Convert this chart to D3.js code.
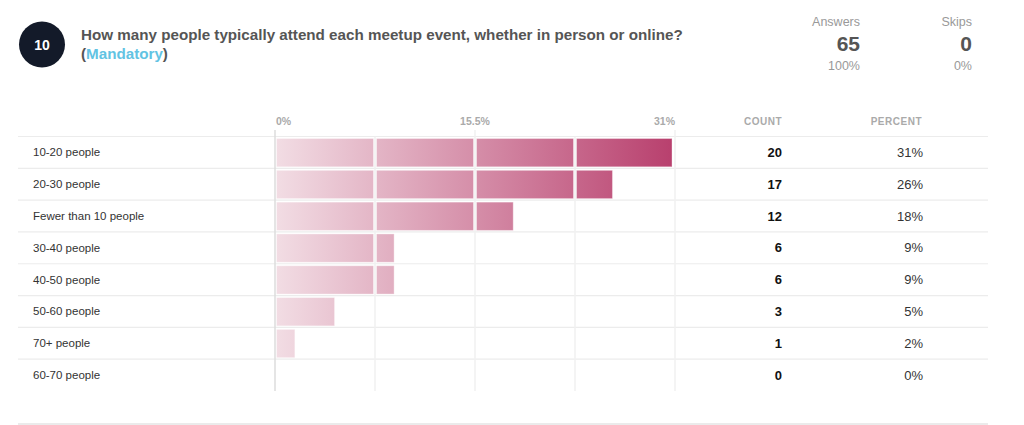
<!DOCTYPE html>
<html>
<head>
<meta charset="utf-8">
<script src="https://cdn.jsdelivr.net/npm/d3@7"></script>
<style>
  body { margin: 0; background: #fff; }
  svg text { font-family: "Helvetica Neue", Helvetica, Arial, "Liberation Sans", sans-serif; }
</style>
</head>
<body>
<div id="chart"></div>
<script>
// ===== DATA =====
const categories = ["10-20 people", "20-30 people", "Fewer than 10 people", "30-40 people",
                    "40-50 people", "50-60 people", "70+ people", "60-70 people"];
const counts = [20, 17, 12, 6, 6, 3, 1, 0];
const totalAnswers = 65;
const skips = 0;
const axisTicks = [0, 15.5, 31];
const gridSteps = [0, 7.75, 15.5, 23.25, 31];

const width = 1024, height = 425;
const svg = d3.select('#chart').append('svg')
    .attr('width', width)
    .attr('height', height);

// ===== HEADER =====
svg.append('circle')
    .attr('cx', 42).attr('cy', 44.5).attr('r', 23)
    .attr('fill', '#131a29');
svg.append('text')
    .attr('x', 42).attr('y', 49.5)
    .attr('text-anchor', 'middle')
    .attr('font-size', '14px').attr('font-weight', 'bold')
    .attr('fill', '#fff')
    .text('10');

svg.append('text')
    .attr('x', 81).attr('y', 39.5)
    .attr('font-size', '15.2px').attr('font-weight', 'bold')
    .attr('fill', '#555')
    .text('How many people typically attend each meetup event, whether in person or online?');
const sub = svg.append('text')
    .attr('x', 81).attr('y', 58.5)
    .attr('font-size', '15.2px').attr('font-weight', 'bold')
    .attr('fill', '#555');
sub.append('tspan').text('(');
sub.append('tspan').attr('fill', '#62c3e3').text('Mandatory');
sub.append('tspan').text(')');

// Answers / Skips
const stats = [
    { label: 'Answers', value: totalAnswers, pct: '100%', x: 860 },
    { label: 'Skips', value: skips, pct: '0%', x: 972 }
];
const stat = svg.append('g').selectAll('g')
    .data(stats)
    .enter().append('g')
    .attr('text-anchor', 'end');
stat.append('text')
    .attr('x', d => d.x).attr('y', 26)
    .attr('font-size', '12.5px').attr('fill', '#999')
    .text(d => d.label);
stat.append('text')
    .attr('x', d => d.x).attr('y', 51)
    .attr('font-size', '21px').attr('font-weight', 'bold').attr('fill', '#555')
    .text(d => d.value);
stat.append('text')
    .attr('x', d => d.x).attr('y', 70)
    .attr('font-size', '12.5px').attr('fill', '#999')
    .text(d => d.pct);

// ===== SCALES =====
const x = d3.scaleLinear().domain([0, 31]).range([275, 675]);
const y = d3.scaleBand().domain(categories).range([136.5, 391]).paddingInner(0).paddingOuter(0);
const pct = d => d / totalAnswers * 100;

// Gradient across the whole scale
const grad = svg.append('defs').append('linearGradient')
    .attr('id', 'barGrad')
    .attr('gradientUnits', 'userSpaceOnUse')
    .attr('x1', x(0)).attr('x2', x(31)).attr('y1', 0).attr('y2', 0);
grad.append('stop').attr('offset', '0%').attr('stop-color', '#f2dde4');
grad.append('stop').attr('offset', '100%').attr('stop-color', '#b83f6d');

// Row separator lines
svg.append('g')
    .selectAll('line')
    .data(categories)
    .enter().append('line')
    .attr('x1', 18).attr('x2', 988)
    .attr('y1', d => y(d)).attr('y2', d => y(d))
    .attr('stroke', '#ececec').attr('stroke-width', 1.2);
svg.append('line')
    .attr('x1', 18).attr('x2', 988)
    .attr('y1', 424).attr('y2', 424)
    .attr('stroke', '#e4e4e4').attr('stroke-width', 1.5);

// Vertical gridlines
svg.append('g')
    .selectAll('line')
    .data(gridSteps)
    .enter().append('line')
    .attr('x1', d => x(d)).attr('x2', d => x(d))
    .attr('y1', d => axisTicks.includes(d) ? 130 : y.range()[0])
    .attr('y2', y.range()[1])
    .attr('stroke', d => d === 0 ? '#dcdcdc' : '#f0f0f0')
    .attr('stroke-width', 1.5);

// Axis tick labels
svg.append('g')
    .selectAll('text')
    .data(axisTicks)
    .enter().append('text')
    .attr('x', d => x(d) + (d === 0 ? 1 : 0))
    .attr('y', 125)
    .attr('text-anchor', (d, i) => i === 0 ? 'start' : (i === axisTicks.length - 1 ? 'end' : 'middle'))
    .attr('font-size', '10.5px').attr('font-weight', 'bold').attr('fill', '#aaa')
    .text(d => d + '%');

// Column headers
svg.append('text')
    .attr('x', 782).attr('y', 125).attr('text-anchor', 'end')
    .attr('font-size', '10px').attr('font-weight', 'bold').attr('fill', '#aaa')
    .attr('letter-spacing', '0.5px')
    .text('COUNT');
svg.append('text')
    .attr('x', 922).attr('y', 125).attr('text-anchor', 'end')
    .attr('font-size', '10px').attr('font-weight', 'bold').attr('fill', '#aaa')
    .attr('letter-spacing', '0.5px')
    .text('PERCENT');

// ===== BARS (split into segments at the gridlines) =====
const segments = [];
categories.forEach((c, i) => {
    const v = pct(counts[i]);
    for (let k = 0; k < gridSteps.length - 1; k++) {
        const a = gridSteps[k], b = Math.min(gridSteps[k + 1], v);
        if (b > a) segments.push({ cat: c, a: a, b: b, last: b === v });
    }
});

svg.append('g')
    .selectAll('rect')
    .data(segments)
    .enter().append('rect')
    .attr('x', d => x(d.a) + 1.5)
    .attr('width', d => x(d.b) - x(d.a) - (d.last ? 1.5 : 3))
    .attr('y', d => y(d.cat) + 2)
    .attr('height', y.bandwidth() - 3.5)
    .attr('fill', 'url(#barGrad)')
    .attr('stroke', '#ffffff').attr('stroke-opacity', 0.35).attr('stroke-width', 1);

// ===== ROW TEXT =====
const rows = svg.append('g')
    .selectAll('g')
    .data(categories)
    .enter().append('g');

rows.append('text')
    .attr('x', 33)
    .attr('y', d => y(d) + y.bandwidth() / 2 + 4)
    .attr('font-size', '11.5px').attr('fill', '#333')
    .text(d => d);

rows.append('text')
    .attr('x', 782).attr('text-anchor', 'end')
    .attr('y', d => y(d) + y.bandwidth() / 2 + 4.5)
    .attr('font-size', '13px').attr('font-weight', 'bold').attr('fill', '#111')
    .text((d, i) => counts[i]);

rows.append('text')
    .attr('x', 923).attr('text-anchor', 'end')
    .attr('y', d => y(d) + y.bandwidth() / 2 + 4.5)
    .attr('font-size', '13px').attr('fill', '#333')
    .text((d, i) => Math.round(pct(counts[i])) + '%');
</script>
</body>
</html>
